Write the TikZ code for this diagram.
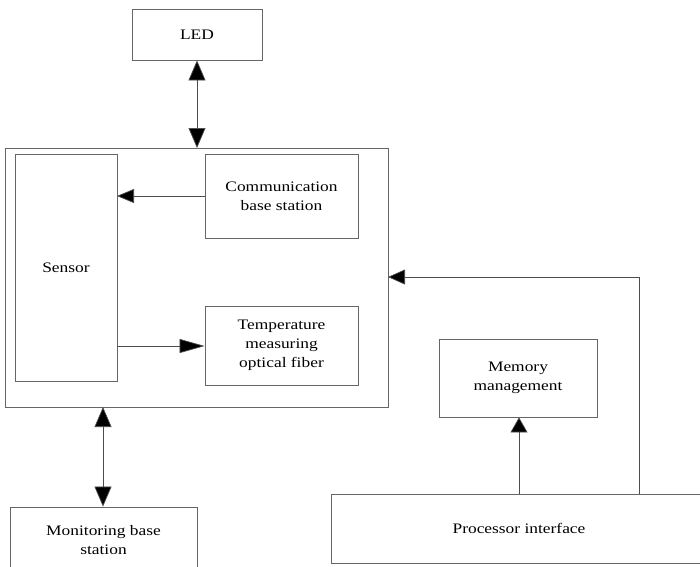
\documentclass[tikz,border=0pt]{standalone}
\usepackage{fontspec}
\setmainfont{Liberation Serif}[FakeStretch=1.2]
\usetikzlibrary{arrows.meta}
\begin{document}
\begin{tikzpicture}[x=1pt,y=-1pt,
  box/.style={draw=black!60,line width=0.8pt,inner sep=0pt,align=center,
    font=\fontsize{14.5}{19}\selectfont},
  tip/.tip={Triangle[length=20pt,width=17pt,fill=black]},
  arr/.style={draw=black!70,line width=0.7pt,-{Triangle[length=#1,fill=black]}},
  darr/.style={draw=black!70,line width=0.7pt,tip-tip}]
\useasboundingbox (0,0) rectangle (700,566);
\clip (0,0) rectangle (700,566);
\node[box,minimum width=130pt,minimum height=51pt] (led) at (197,34.5) {LED};
\node[box,minimum width=383pt,minimum height=259pt] (outer) at (196.5,277.5) {};
\node[box,minimum width=102pt,minimum height=227pt] (sensor) at (66,267.5) {Sensor};
\node[box,minimum width=153pt,minimum height=84pt] (comm) at (281.5,196) {Communication\\base station};
\node[box,minimum width=153pt,minimum height=79pt] (temp) at (281.5,345.5) {Temperature\\measuring\\optical fiber};
\node[box,minimum width=158pt,minimum height=78pt] (mem) at (518,378) {Memory\\management};
\node[box,minimum width=376pt,minimum height=69pt] (proc) at (519,528.5) {Processor interface};
\node[box,minimum width=187pt,minimum height=66pt] (mon) at (103.5,540) {Monitoring base\\station};
\coordinate (ledc) at (197,148);
\coordinate (monc) at (103,407);
\coordinate (sa) at (117,196);
\coordinate (sb) at (117,346);
\coordinate (pa) at (519,494);
\coordinate (pb) at (639,494);
\coordinate (oe) at (388,277);
\draw[darr] (led.south) -- (ledc);
\draw[darr] (monc) -- (mon.north -| monc);
\draw[arr={17pt,width=14pt}] (comm.west |- sa) -- (sa);
\draw[arr={25pt,width=14pt}] (sb) -- (temp.west |- sb);
\draw[arr={15pt,width=17pt}] (pa) -- (mem.south -| pa);
\draw[arr={17pt,width=15pt}] (pb) -- (pb |- oe) -- (oe);
\end{tikzpicture}
\end{document}
